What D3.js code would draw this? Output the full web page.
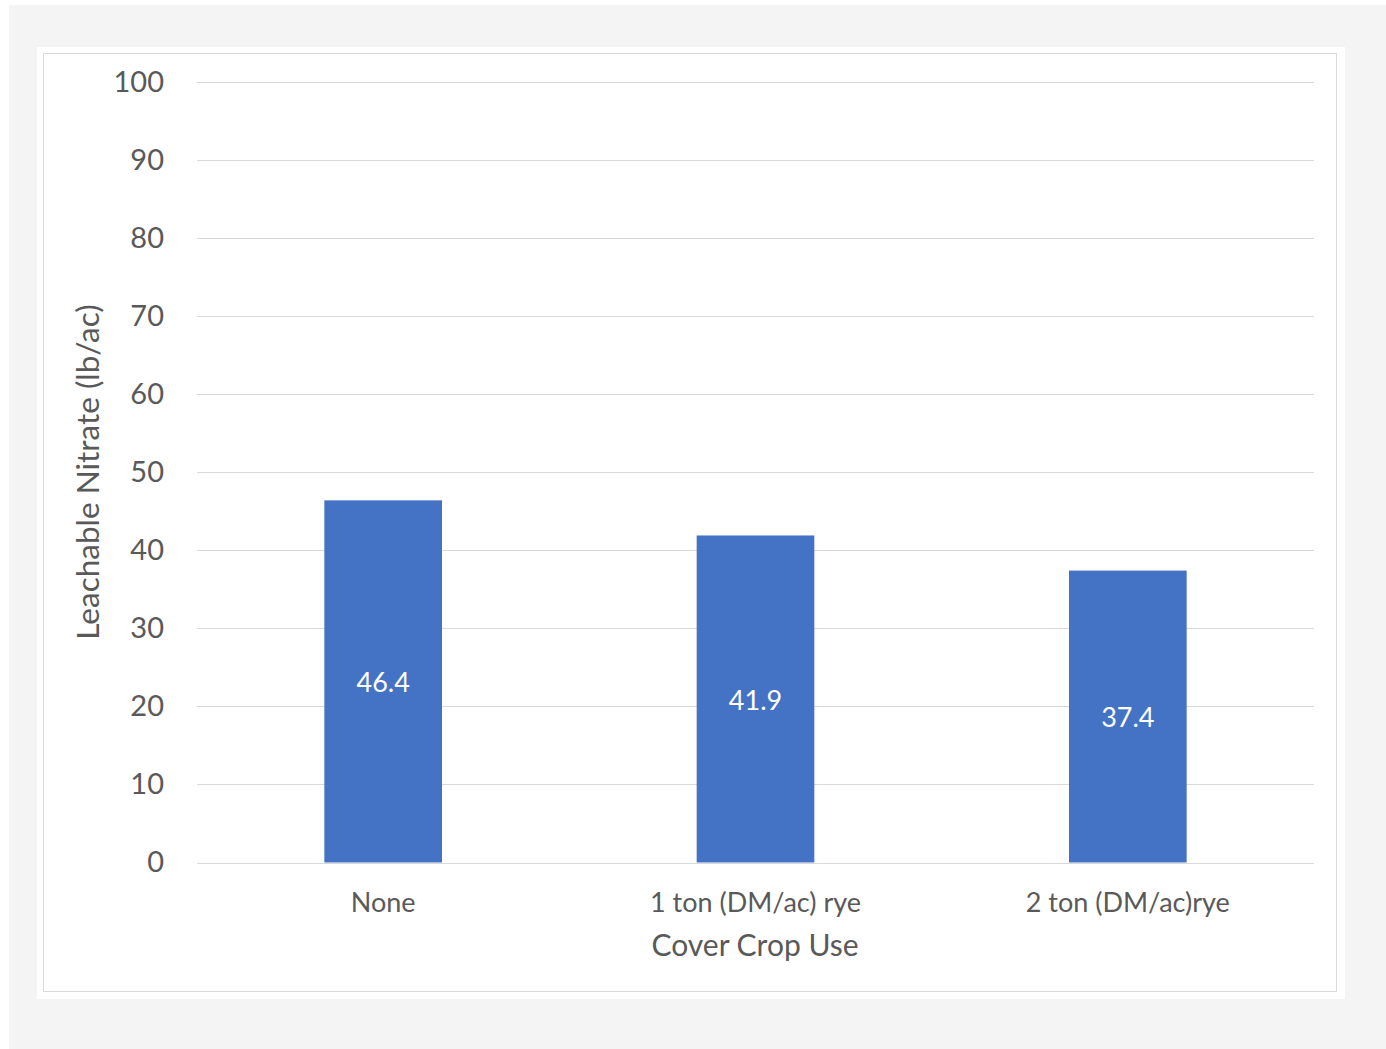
<!DOCTYPE html>
<html><head><meta charset="utf-8">
<script src="https://cdn.jsdelivr.net/npm/d3@7"></script>
<style>html,body{margin:0;padding:0;background:#fff;}svg{display:block;}</style>
</head><body>
<script>
const categories = ["None", "1 ton (DM/ac) rye", "2 ton (DM/ac)rye"];
const values = [46.4, 41.9, 37.4];
const yTicks = [0, 10, 20, 30, 40, 50, 60, 70, 80, 90, 100];
const xTitle = "Cover Crop Use";
const yTitle = "Leachable Nitrate (lb/ac)";

const W = 1386, H = 1049;
const FONT = "Lato, 'Open Sans', sans-serif";
const svg = d3.select("body").append("svg").attr("width", W).attr("height", H);

svg.append("rect").attr("x", 9).attr("y", 5).attr("width", W - 9).attr("height", H - 5).attr("fill", "#f4f4f4");
svg.append("rect").attr("x", 37).attr("y", 47).attr("width", 1308).attr("height", 952).attr("fill", "#fff");
svg.append("rect").attr("x", 43.5).attr("y", 53.5).attr("width", 1293).attr("height", 938)
  .attr("fill", "none").attr("stroke", "#d9d9d9").attr("stroke-width", 1);

const x = d3.scaleBand().domain(categories).range([197, 1314]).padding(0);
const y = d3.scaleLinear().domain([0, 100]).range([862.5, 82]);
const barFrac = 0.316;

const grid = svg.append("g");
grid.selectAll("line").data(yTicks).join("line")
  .attr("x1", 197).attr("x2", 1314)
  .attr("y1", d => Math.round(y(d)) + 0.5).attr("y2", d => Math.round(y(d)) + 0.5)
  .attr("stroke", "#d9d9d9").attr("stroke-width", 1);

const yAxis = d3.axisLeft(y).tickValues(yTicks).tickSize(0).tickPadding(0);
const gy = svg.append("g").attr("transform", "translate(164,0)").call(yAxis);
gy.select(".domain").remove();
gy.selectAll("text").attr("font-family", FONT).attr("font-size", 29).attr("fill", "#595959");

const bw = x.bandwidth() * barFrac;
svg.append("g").selectAll("rect").data(values).join("rect")
  .attr("x", (d, i) => x(categories[i]) + x.bandwidth() / 2 - bw / 2)
  .attr("width", bw)
  .attr("y", d => y(d))
  .attr("height", d => y(0) - y(d))
  .attr("fill", "#4472c4");

svg.append("g").selectAll("text").data(values).join("text")
  .attr("x", (d, i) => x(categories[i]) + x.bandwidth() / 2)
  .attr("y", d => (y(d) + y(0)) / 2 + 4)
  .attr("text-anchor", "middle").attr("dominant-baseline", "middle")
  .attr("font-family", FONT).attr("font-size", 27).attr("fill", "#fff")
  .text(d => d.toFixed(1));

const xAxis = d3.axisBottom(x).tickSize(0).tickPadding(0);
const gx = svg.append("g").attr("transform", "translate(0,0)").call(xAxis);
gx.select(".domain").remove();
gx.selectAll(".tick").attr("transform", d => `translate(${x(d) + x.bandwidth() / 2},0)`);
gx.selectAll("text").attr("font-family", FONT).attr("font-size", 27).attr("fill", "#595959")
  .attr("y", 912).attr("dy", 0);

svg.append("text").attr("x", 755).attr("y", 956)
  .attr("text-anchor", "middle").attr("font-family", FONT).attr("font-size", 30).attr("fill", "#595959")
  .text(xTitle);

svg.append("text").attr("transform", "translate(99,472) rotate(-90)")
  .attr("text-anchor", "middle").attr("font-family", FONT).attr("font-size", 31.5).attr("fill", "#595959")
  .text(yTitle);
</script>
</body></html>
